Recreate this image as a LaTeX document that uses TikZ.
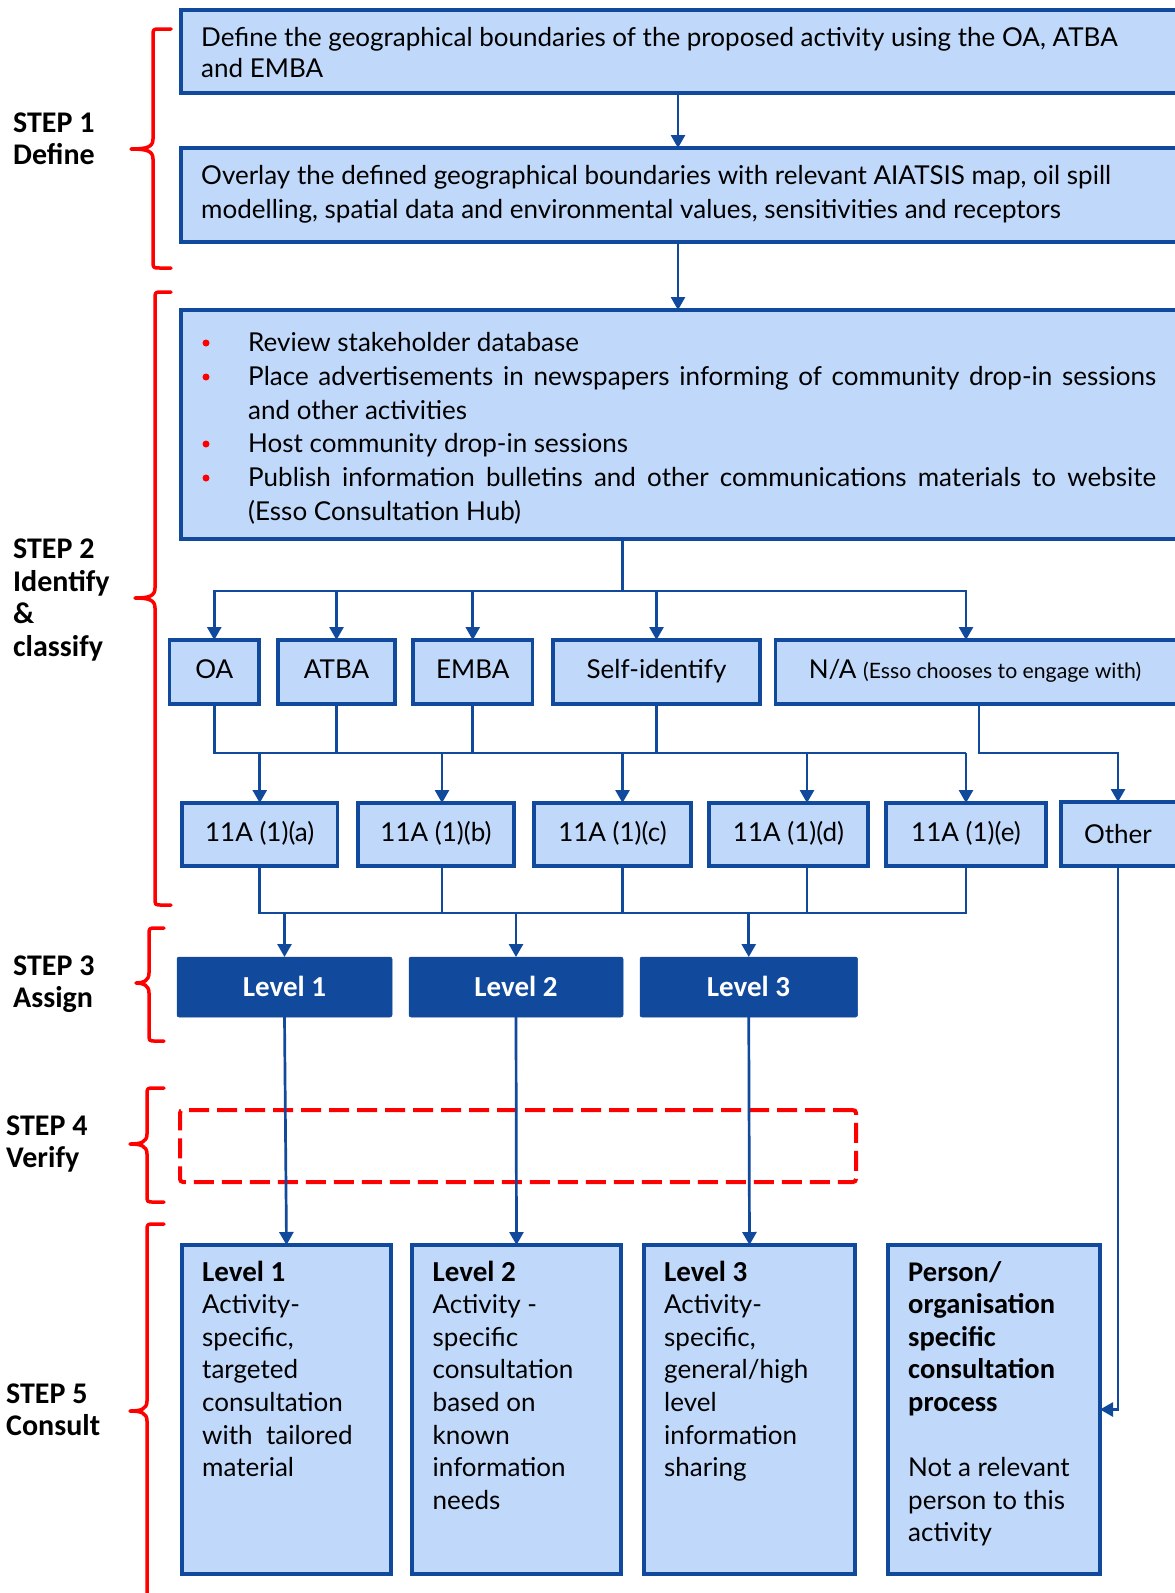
\documentclass[tikz,border=0pt]{standalone}
\usepackage{fontspec}
\setmainfont{Lato}
\newfontfamily\stepfont{Carlito}
\usetikzlibrary{arrows.meta}

\definecolor{boxfill}{RGB}{192,216,250}
\definecolor{navy}{RGB}{17,73,156}
\definecolor{bracered}{RGB}{255,0,0}

\newcommand\bodysize{\fontsize{26}{32.6}\selectfont}
\newcommand\smallnote{\fontsize{21.2}{24}\selectfont}
\newcommand\headsize{\stepfont\bfseries\fontsize{29}{32.6}\selectfont}
\newcommand\personsize{\stepfont\bfseries\fontsize{28.5}{32.6}\selectfont}

% curly brace: xline, xend, xtip, ytop, ytip, ybot
\newcommand\curlybrace[6]{%
  \draw[bracestyle] (#2,#4) -- ({#1+7},#4) .. controls (#1,#4) .. (#1,{#4+7})
    -- (#1,{#5-10}) .. controls (#1,{#5-2}) and ({#1-6},#5) .. (#3,#5)
    .. controls ({#1-6},#5) and (#1,{#5+2}) .. (#1,{#5+10})
    -- (#1,{#6-7}) .. controls (#1,#6) .. ({#1+7},#6) -- (#2,#6);}

\begin{document}
\begin{tikzpicture}[x=1pt,y=-1pt,
  lightbox/.style={draw=navy,line width=3.5pt,fill=boxfill,inner sep=0pt,outer sep=0pt},
  rowtext/.style={font=\bodysize,text height=18pt,text depth=5pt},
  levelbox/.style={fill=navy,draw=navy,line width=0.5pt,rounded corners=2pt,inner sep=0pt,
    outer sep=0pt,minimum height=60pt},
  levelcaption/.style={text=white,font=\headsize,inner sep=0pt,anchor=base},
  body/.style={font=\bodysize,inner sep=0pt,anchor=base west},
  head/.style={font=\headsize,inner sep=0pt,anchor=base west},
  personhead/.style={font=\personsize,inner sep=0pt,anchor=base west},
  steplabel/.style={font=\stepfont\bfseries\fontsize{30}{32.5}\selectfont,inner sep=0pt,anchor=base west},
  link/.style={draw=navy,line width=2.7pt},
  arrowlink/.style={link,-{Triangle[length=13pt,width=14pt]}},
  bracestyle/.style={draw=bracered,line width=3.5pt,line cap=round,line join=round},
  dashbox/.style={draw=bracered,line width=4pt,dash pattern=on 20pt off 8pt,rounded corners=3pt},
  bulletdot/.style={circle,fill=bracered,inner sep=0pt,minimum size=7pt}]

\useasboundingbox (0,0) rectangle (1175,1593);
\fill[white] (0,0) rectangle (1175,1593);

% ---------- step 1 ----------
\node[lightbox,minimum width=1009pt,minimum height=83pt] (define) at (685.5,51.5) {};
\node[body] (define1) at (201,46) {Define the geographical boundaries of the proposed activity using the OA, ATBA};
\node[body] (define2) at (201,77.5) {and EMBA};

\node[lightbox,minimum width=1009pt,minimum height=94pt] (overlay) at (685.5,195) {};
\node[body] (overlay1) at (201,184.5) {Overlay the defined geographical boundaries with relevant AIATSIS map, oil spill};
\node[body] (overlay2) at (201,218.5) {modelling, spatial data and environmental values, sensitivities and receptors};

% ---------- step 2 ----------
\node[lightbox,minimum width=1009pt,minimum height=229pt] (review) at (685.5,424.5) {};
\node[bulletdot] (bul1) at (206,343) {};
\node[bulletdot] (bul2) at (206,377) {};
\node[bulletdot] (bul3) at (206,444) {};
\node[bulletdot] (bul4) at (206,478) {};
\node[body] (rev1) at (248,351.5) {Review stakeholder database};
\node[body] (rev2) at (248,385.5) {\hbox to 908pt{Place advertisements in newspapers informing of community drop-in sessions}};
\node[body] (rev3) at (248,419) {and other activities};
\node[body] (rev4) at (248,452.5) {Host community drop-in sessions};
\node[body] (rev5) at (248,486.5) {\hbox to 908pt{Publish information bulletins and other communications materials to website}};
\node[body] (rev6) at (248,520.5) {(Esso Consultation Hub)};

\node[lightbox,rowtext,minimum width=89.5pt,minimum height=64pt] (oa) at (214.25,672) {OA};
\node[lightbox,rowtext,minimum width=117pt,minimum height=64pt] (atba) at (336.5,672) {ATBA};
\node[lightbox,rowtext,minimum width=119.5pt,minimum height=64pt] (emba) at (472.75,672) {EMBA};
\node[lightbox,rowtext,minimum width=207pt,minimum height=64pt] (self) at (656.5,672) {Self-identify};
\node[lightbox,minimum width=414.5pt,minimum height=64pt] (na) at (982.75,672) {};
\node[rowtext,inner sep=0pt] (natext) at (975,672) {N/A {\smallnote(Esso chooses to engage with)}};

\node[lightbox,rowtext,minimum width=155.5pt,minimum height=63pt] (a11) at (259.75,834.5) {11A (1)(a)};
\node[lightbox,rowtext,minimum width=156pt,minimum height=63pt] (b11) at (436,834.5) {11A (1)(b)};
\node[lightbox,rowtext,minimum width=157pt,minimum height=63pt] (c11) at (612.5,834.5) {11A (1)(c)};
\node[lightbox,rowtext,minimum width=159pt,minimum height=63pt] (d11) at (788.5,834.5) {11A (1)(d)};
\node[lightbox,rowtext,minimum width=160pt,minimum height=63pt] (e11) at (966,834.5) {11A (1)(e)};
\node[lightbox,minimum width=129pt,minimum height=64pt] (other) at (1125.5,834) {};
\node[rowtext,inner sep=0pt] (othertext) at (1118,837) {Other};

% ---------- step 3 ----------
\node[levelbox,minimum width=215pt] (lv1) at (284.5,987) {};
\node[levelbox,minimum width=214pt] (lv2) at (516,987) {};
\node[levelbox,minimum width=217.5pt] (lv3) at (748.75,987) {};
\node[levelcaption] (lv1text) at (284.5,996.5) {Level 1};
\node[levelcaption] (lv2text) at (516,996.5) {Level 2};
\node[levelcaption] (lv3text) at (748.5,996.5) {Level 3};

% ---------- step 4 ----------
\node[dashbox,minimum width=676pt,minimum height=72pt] (verify) at (518,1146) {};

% ---------- step 5 ----------
\node[lightbox,minimum width=209pt,minimum height=329pt] (c1) at (286.5,1409.5) {};
\node[lightbox,minimum width=209pt,minimum height=329pt] (c2) at (516.5,1409.5) {};
\node[lightbox,minimum width=211pt,minimum height=329pt] (c3) at (749.5,1409.5) {};
\node[lightbox,minimum width=212pt,minimum height=329pt] (person) at (994,1409.5) {};

\node[head] (c1h) at (202,1281) {Level 1};
\foreach \t [count=\i] in {Activity-,{specific,},targeted,consultation,with\ \ tailored,material}
  \node[body] (c1t\i) at (202,{1281+32.6*\i}) {\t};
\node[head] (c2h) at (432.5,1281) {Level 2};
\foreach \t [count=\i] in {Activity -,specific,consultation,based on,known,information,needs}
  \node[body] (c2t\i) at (432.5,{1281+32.6*\i}) {\t};
\node[head] (c3h) at (664,1281) {Level 3};
\foreach \t [count=\i] in {Activity-,{specific,},general/high,level,information,sharing}
  \node[body] (c3t\i) at (664,{1281+32.6*\i}) {\t};
\foreach \t [count=\i from 0] in {Person/,organisation,specific,consultation,process}
  \node[personhead] (ph\i) at (908,{1281+32.6*\i}) {\t};
\foreach \t [count=\i from 6] in {Not a relevant,person to this,activity}
  \node[body] (pt\i) at (908,{1281+32.6*\i}) {\t};

% ---------- connector columns ----------
\coordinate (colA) at (678,0);
\coordinate (hub) at (622.5,591);
\coordinate (colNA) at (966,0);
\coordinate (busM) at (0,753);
\coordinate (colB) at (442,0);
\coordinate (colC) at (622.5,0);
\coordinate (colD) at (807,0);
\coordinate (colNAout) at (979,0);
\coordinate (colO) at (1118,0);
\coordinate (busL) at (0,913);

% ---------- connectors ----------
\draw[arrowlink] (define.south -| colA) -- (overlay.north -| colA);
\draw[arrowlink] (overlay.south -| colA) -- (review.north -| colA);

\draw[link] (review.south -| hub) -- (hub);
\draw[arrowlink] (hub) -| (oa.north);
\draw[arrowlink] (hub) -| (na.north -| colNA);
\foreach \n in {atba,emba,self}
  \draw[arrowlink] (\n.north |- hub) -- (\n.north);

\draw[link] (oa.south) |- (e11.north |- busM);
\foreach \n in {atba,emba,self}
  \draw[link] (\n.south) -- (\n.south |- busM);
\draw[arrowlink] (a11.north |- busM) -- (a11.north);
\draw[arrowlink] (e11.north |- busM) -- (e11.north);
\foreach \c/\n in {colB/b11,colC/c11,colD/d11}
  \draw[arrowlink] (\c |- busM) -- (\n.north -| \c);

\draw[arrowlink] (na.south -| colNAout) |- (colO |- busM) -- (other.north -| colO);

\draw[link] (a11.south) |- (e11.south |- busL) -- (e11.south);
\foreach \c/\n in {colB/b11,colC/c11,colD/d11}
  \draw[link] (\n.south -| \c) -- (\c |- busL);
\foreach \n in {lv1,lv2,lv3}
  \draw[arrowlink] (\n.north |- busL) -- (\n.north);

\draw[arrowlink] (lv1.south) -- (c1.north);
\draw[arrowlink] (lv2.south) -- (c2.north);
\draw[arrowlink] (lv3.south) -- (c3.north);

\draw[arrowlink] (other.south -| colO) |- (person.east);

% ---------- step braces and labels ----------
\curlybrace{153}{171}{131}{29}{149}{268}
\curlybrace{155}{171}{135}{292}{598}{905}
\curlybrace{149}{164}{136}{928}{983}{1041}
\curlybrace{147}{164}{130}{1088}{1144}{1202}
\curlybrace{147}{164}{130}{1224}{1411}{1640}

\node[steplabel] (s1a) at (13,132) {STEP 1};
\node[steplabel] (s1b) at (13,164.5) {Define};
\node[steplabel] (s2a) at (13,558.5) {STEP 2};
\node[steplabel] (s2b) at (13,591) {Identify};
\node[steplabel] (s2c) at (13,623.5) {\&};
\node[steplabel] (s2d) at (13,656) {classify};
\node[steplabel] (s3a) at (13,975) {STEP 3};
\node[steplabel] (s3b) at (13,1007.5) {Assign};
\node[steplabel] (s4a) at (6,1135) {STEP 4};
\node[steplabel] (s4b) at (6,1167.5) {Verify};
\node[steplabel] (s5a) at (6,1403) {STEP 5};
\node[steplabel] (s5b) at (6,1435.5) {Consult};
\end{tikzpicture}
\end{document}
